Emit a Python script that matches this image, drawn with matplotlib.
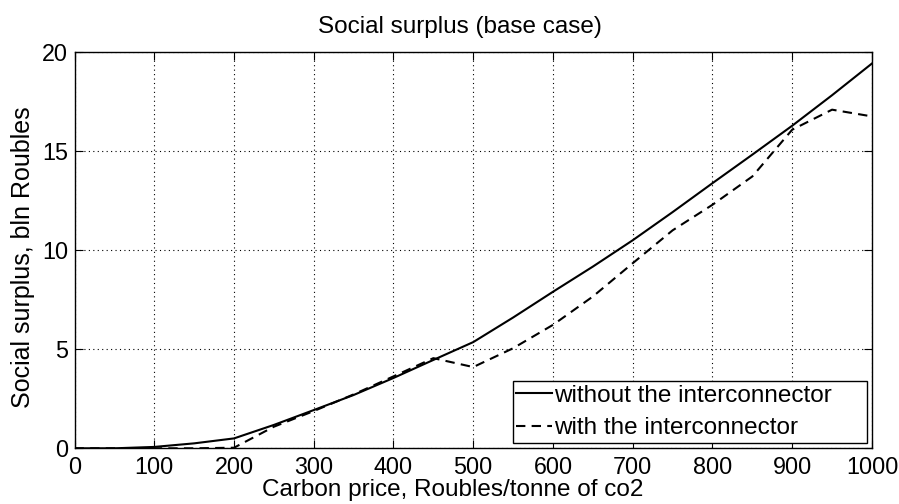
import matplotlib
matplotlib.use("Agg")
import matplotlib.pyplot as plt

carbon_price = [0, 50, 100, 150, 200, 250, 300, 350, 400, 450, 500,
                550, 600, 650, 700, 750, 800, 850, 900, 950, 1000]
without_ic = [0.0, 0.0, 0.07, 0.25, 0.5, 1.18, 1.93, 2.69, 3.55, 4.46, 5.36,
              6.6, 7.9, 9.17, 10.5, 11.92, 13.38, 14.82, 16.28, 17.82, 19.42]
with_ic = [0.0, 0.0, 0.0, 0.0, 0.03, 1.09, 1.88, 2.72, 3.63, 4.55, 4.1,
           5.05, 6.23, 7.66, 9.34, 11.0, 12.29, 13.72, 16.08, 17.09, 16.75]
x_ticks = [0, 100, 200, 300, 400, 500, 600, 700, 800, 900, 1000]
y_ticks = [0, 5, 10, 15, 20]

plt.rcParams['font.family'] = ['Liberation Sans', 'DejaVu Sans']
fs = 16.8

fig = plt.figure(figsize=(8.99, 5.04), dpi=100)
ax = fig.add_axes([0.0829, 0.1105, 0.8870, 0.7863])

ax.plot(carbon_price, without_ic, '-', color='black', lw=1.5, label='without the interconnector')
ax.plot(carbon_price, with_ic, '--', color='black', lw=1.5, dashes=(4.5, 3), label='with the interconnector')

ax.set_xlim(0, 1000)
ax.set_ylim(0, 20)
ax.set_xticks(x_ticks)
ax.set_yticks(y_ticks)
ax.tick_params(direction='in', top=True, right=True, length=5.5, labelsize=fs)
ax.tick_params(axis='x', pad=5.5)
ax.tick_params(axis='y', pad=4.5)
ax.grid(True, linestyle=(0, (1, 3)), color='black', lw=0.8)
for s in ax.spines.values():
    s.set_linewidth(1.0)

ax.set_title('Social surplus (base case)', fontsize=17.5, pad=14, x=0.4834)
ax.set_xlabel('Carbon price, Roubles/tonne of co2', fontsize=17.5, labelpad=0)
ax.xaxis.label.set_x(0.4746)
ax.set_ylabel('Social surplus, bln Roubles', fontsize=18, labelpad=5)
ax.yaxis.label.set_y(0.4835)

leg = ax.legend(loc='lower left', bbox_to_anchor=(0.5495, 0.0141, 0.4439, 0.1625),
                mode='expand', fontsize=17.5, frameon=True, fancybox=False,
                edgecolor='black', framealpha=1, handlelength=1.45, handletextpad=0.08,
                borderpad=0.15, labelspacing=0.42, borderaxespad=0)
leg.get_frame().set_linewidth(1.0)

fig.savefig('out.png', dpi=100)
